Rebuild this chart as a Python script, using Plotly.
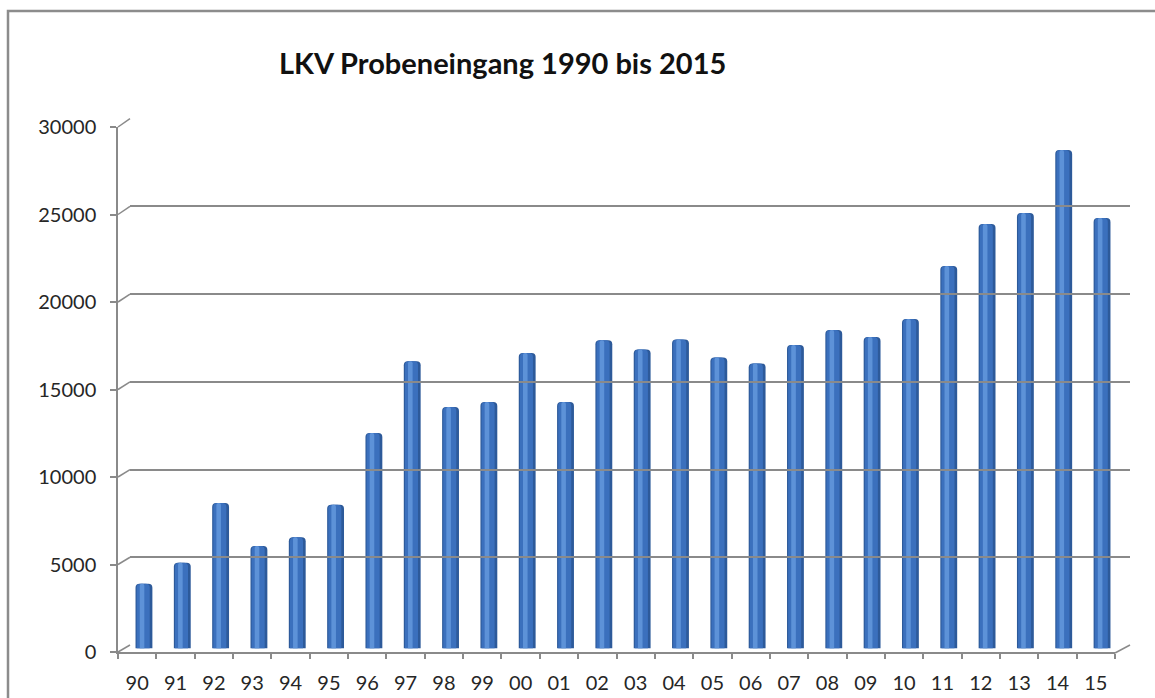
import plotly.graph_objects as go

# Annual sample intake (Probeneingang) 1990-2015
years = ["90", "91", "92", "93", "94", "95", "96", "97", "98", "99",
         "00", "01", "02", "03", "04", "05", "06", "07", "08", "09",
         "10", "11", "12", "13", "14", "15"]
samples = [3700, 4900, 8300, 5850, 6350, 8200, 12300, 16400, 13780, 14070,
           16870, 14070, 17590, 17070, 17640, 16610, 16270, 17330, 18180, 17780,
           18810, 21830, 24230, 24860, 28450, 24570]
y_ticks = [0, 5000, 10000, 15000, 20000, 25000, 30000]
title_text = "LKV Probeneingang 1990 bis 2015"

W, H = 1155, 698
Y_MAX = 30000


def px_x(p):
    return p / W


def px_y(p):
    return 1 - p / H


# pixel geometry of the pseudo-3D frame
FRONT_LEFT, FRONT_RIGHT, FRONT_BOTTOM, FRONT_TOP = 118, 1115, 652, 127
BACK_LEFT, BACK_RIGHT, BACK_BOTTOM, BACK_TOP = 130, 1130, 645, 118.6
MID_LEFT, MID_RIGHT, MID_BOTTOM, MID_TOP = 124.8, 1121.2, 648.5, 122.9

GRID = "#8a8a8a"
FONT = "Lato"

fig = go.Figure()

# cylinder-like columns: dark body, mid tone, light highlight
bar_layers = [
    (0.44, 0.0, "#2d5a9a"),
    (0.34, -0.02, "#3b70bd"),
    (0.12, -0.05, "#5d92d8"),
]
for width, shift, colour in bar_layers:
    fig.add_trace(go.Bar(
        x=list(range(len(years))), y=samples, width=width,
        offset=-width / 2 + shift,
        marker=dict(color=colour, line=dict(width=0)),
        xaxis="x", yaxis="y", hoverinfo="skip", showlegend=False,
    ))

# carrier traces so the back-wall and front axes are drawn
fig.add_trace(go.Scatter(x=[0, 1], y=[0, Y_MAX], mode="markers",
                         marker=dict(opacity=0), xaxis="x2", yaxis="y2",
                         hoverinfo="skip", showlegend=False))
fig.add_trace(go.Scatter(x=years, y=samples, mode="markers",
                         marker=dict(opacity=0), xaxis="x3", yaxis="y3",
                         hoverinfo="skip", showlegend=False))

shapes = []
# perspective connectors from the front value axis to the back-wall grid
for v in y_ticks:
    yf = FRONT_BOTTOM - (FRONT_BOTTOM - FRONT_TOP) * v / Y_MAX
    yb = BACK_BOTTOM - (BACK_BOTTOM - BACK_TOP) * v / Y_MAX
    shapes.append(dict(type="line", xref="paper", yref="paper",
                       x0=px_x(FRONT_LEFT), y0=px_y(yf),
                       x1=px_x(BACK_LEFT), y1=px_y(yb),
                       line=dict(color=GRID, width=1.5)))
# right edge of the floor
shapes.append(dict(type="line", xref="paper", yref="paper",
                   x0=px_x(FRONT_RIGHT), y0=px_y(FRONT_BOTTOM + 1),
                   x1=px_x(BACK_RIGHT), y1=px_y(BACK_BOTTOM),
                   line=dict(color=GRID, width=1.5)))
# chart frame
shapes.append(dict(type="rect", xref="paper", yref="paper",
                   x0=px_x(8), y0=px_y(H + 10), x1=px_x(W + 10), y1=px_y(11),
                   line=dict(color="#8c8c8c", width=2.5), layer="below"))

fig.update_layout(
    width=W, height=H,
    margin=dict(l=0, r=0, t=0, b=0, pad=0, autoexpand=False),
    paper_bgcolor="white", plot_bgcolor="rgba(0,0,0,0)",
    barmode="overlay", barcornerradius=4,
    shapes=shapes,
    annotations=[dict(text="<b>" + title_text + "</b>", xref="paper", yref="paper",
                      x=px_x(502), y=px_y(62), xanchor="center", yanchor="middle",
                      showarrow=False, font=dict(family=FONT, size=29, color="#111111"))],
    # columns (middle depth plane)
    xaxis=dict(domain=[px_x(MID_LEFT), px_x(MID_RIGHT)], range=[-0.5, len(years) - 0.5],
               visible=False, anchor="y", automargin=False),
    yaxis=dict(domain=[px_y(MID_BOTTOM), px_y(MID_TOP)], range=[0, Y_MAX],
               visible=False, anchor="x", automargin=False),
    # back wall with gridlines
    xaxis2=dict(domain=[px_x(BACK_LEFT), px_x(BACK_RIGHT)], range=[0, 1],
                visible=False, anchor="y2", automargin=False),
    yaxis2=dict(domain=[px_y(BACK_BOTTOM), px_y(BACK_TOP)], range=[0, Y_MAX + 1],
                tickvals=y_ticks, showticklabels=False, showgrid=True,
                gridcolor=GRID, gridwidth=1.5, zeroline=False, showline=False,
                anchor="x2", automargin=False),
    # front axes with tick labels
    xaxis3=dict(domain=[px_x(FRONT_LEFT), px_x(FRONT_RIGHT)], type="category",
                categoryorder="array", categoryarray=years,
                range=[-0.5, len(years) - 0.5],
                showline=True, linecolor=GRID, linewidth=1.5,
                ticks="outside", tickson="boundaries", ticklen=5,
                tickcolor=GRID, tickwidth=1.5, showgrid=False,
                tickfont=dict(family=FONT, size=20, color="#262626"),
                ticklabelstandoff=12, anchor="y3", automargin=False),
    yaxis3=dict(domain=[px_y(FRONT_BOTTOM), px_y(FRONT_TOP)], range=[0, Y_MAX],
                tickvals=y_ticks, ticktext=[str(v) for v in y_ticks],
                showline=True, linecolor=GRID, linewidth=1.5,
                ticks="outside", ticklen=6, tickcolor=GRID, tickwidth=1.5,
                showgrid=False, zeroline=False,
                tickfont=dict(family=FONT, size=20, color="#262626"),
                ticklabelstandoff=10, anchor="x3", automargin=False),
)

fig.write_html("out.html")
